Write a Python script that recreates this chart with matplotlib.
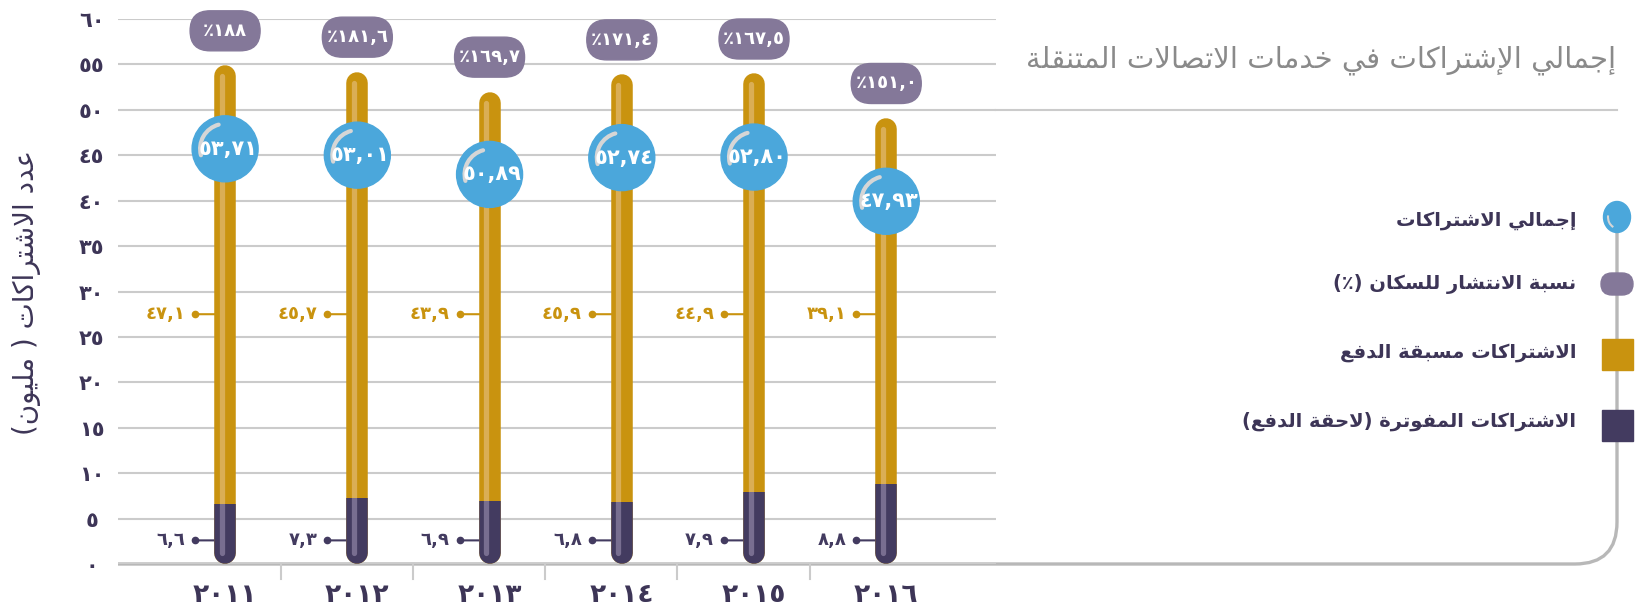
import re
import numpy as np
import matplotlib
matplotlib.use('Agg')
import matplotlib.pyplot as plt
from matplotlib import transforms
from matplotlib.patches import Circle, Arc, FancyBboxPatch, Rectangle, Ellipse, PathPatch
from matplotlib.path import Path

# data
years = ['2011', '2012', '2013', '2014', '2015', '2016']
prepaid = [47.1, 45.7, 43.9, 45.9, 44.9, 39.1]
postpaid = [6.6, 7.3, 6.9, 6.8, 7.9, 8.8]
total = [53.71, 53.01, 50.89, 52.74, 52.80, 47.93]
penetration = ['188', '181.6', '169.7', '171.4', '167.5', '151.0']

title = 'إجمالي الإشتراكات في خدمات الاتصالات المتنقلة'
ylabel = 'عدد الاشتراكات ( مليون)'
legend_labels = ['إجمالي الاشتراكات', 'نسبة الانتشار للسكان (٪)',
                 'الاشتراكات مسبقة الدفع', 'الاشتراكات المفوترة (لاحقة الدفع)']

GOLD = '#C9930F'
GOLD_HI = '#DAAE55'
DARK = '#433B60'
DARK_HI = '#786E90'
BLUE = '#4BA7DB'
PURPLE = '#847899'
GRID = '#CBCBCB'
BASE = '#B8B8B8'
TXT = '#3D3557'

# --- arabic shaping (matplotlib has no text shaping / bidi) ---
DUAL = {'ئ': 0xFE89, 'ب': 0xFE8F, 'ت': 0xFE95, 'ث': 0xFE99, 'ج': 0xFE9D, 'ح': 0xFEA1,
        'خ': 0xFEA5, 'س': 0xFEB1, 'ش': 0xFEB5, 'ص': 0xFEB9, 'ض': 0xFEBD, 'ط': 0xFEC1,
        'ظ': 0xFEC5, 'ع': 0xFEC9, 'غ': 0xFECD, 'ف': 0xFED1, 'ق': 0xFED5, 'ك': 0xFED9,
        'ل': 0xFEDD, 'م': 0xFEE1, 'ن': 0xFEE5, 'ه': 0xFEE9, 'ي': 0xFEF1}
RIGHT = {'آ': 0xFE81, 'أ': 0xFE83, 'ؤ': 0xFE85, 'إ': 0xFE87, 'ا': 0xFE8D, 'ة': 0xFE93,
         'د': 0xFEA9, 'ذ': 0xFEAB, 'ر': 0xFEAD, 'ز': 0xFEAF, 'و': 0xFEED, 'ى': 0xFEEF}
LAM_ALEF = {'آ': 0xFEF5, 'أ': 0xFEF7, 'إ': 0xFEF9, 'ا': 0xFEFB}


def shape(s):
    toks = []
    i = 0
    while i < len(s):
        c = s[i]
        if c == 'ل' and i + 1 < len(s) and s[i + 1] in LAM_ALEF:
            toks.append(('R', LAM_ALEF[s[i + 1]]))
            i += 2
            continue
        if c in DUAL:
            toks.append(('D', DUAL[c]))
        elif c in RIGHT:
            toks.append(('R', RIGHT[c]))
        else:
            toks.append(('N', c))
        i += 1
    out = []
    for k, (kind, v) in enumerate(toks):
        if kind == 'N':
            out.append(v)
            continue
        prev = k > 0 and toks[k - 1][0] == 'D'
        nxt = kind == 'D' and k + 1 < len(toks) and toks[k + 1][0] in 'DR'
        off = 3 if (prev and nxt) else 1 if prev else 2 if nxt else 0
        out.append(chr(v + off))
    return ''.join(out)


MIRROR = str.maketrans('()', ')(')


def rtl(s):
    s = shape(s)
    runs = re.findall(r'[0-9\u0660-\u0669]+(?:[.,][0-9\u0660-\u0669]+)*|[^0-9\u0660-\u0669]+', s)
    return ''.join(r if r[0].isdigit() else r[::-1].translate(MIRROR) for r in reversed(runs))


AR_DIGITS = str.maketrans('0123456789', '٠١٢٣٤٥٦٧٨٩')


def ar_num(v, fmt='{:.1f}'):
    return fmt.format(v).replace('.', ',').translate(AR_DIGITS)


plt.rcParams['font.family'] = ['DejaVu Sans']

W, H = 1637, 615
fig = plt.figure(figsize=(W / 100, H / 100), dpi=100)

bg = fig.add_axes([0, 0, 1, 1], zorder=0)
bg.set_xlim(0, W)
bg.set_ylim(H, 0)
bg.axis('off')

ax = fig.add_axes([118 / W, (H - 564) / H, (996 - 118) / W, (564 - 19) / H], zorder=1)
ax.set_facecolor('none')
ax.set_xlim(-0.81, 5.83)
ax.set_ylim(0, 60)
ax.autoscale(False)
for s in ax.spines.values():
    s.set_visible(False)

ax.set_yticks(np.arange(0, 61, 5))
ax.set_yticklabels([str(v).translate(AR_DIGITS) for v in range(0, 61, 5)],
                   fontsize=15, fontweight='bold', color=TXT, ha='center')
ax.set_xticks(np.arange(len(years)))
ax.set_xticklabels([y.translate(AR_DIGITS) for y in years],
                   fontsize=19, fontweight='bold', color=TXT)
ax.tick_params(axis='y', length=0, pad=19)
ax.tick_params(axis='x', length=0, pad=13)
ax.yaxis.grid(True, color=GRID, lw=1.5)
ax.set_axisbelow(True)

# category separators under the baseline
for b in np.arange(len(years) - 1) + 0.42:
    ax.plot([b, b], [0, -1.6], color=GRID, lw=1.5, clip_on=False, zorder=1)

x = np.arange(len(years))
px_per_unit = ax.transData.transform((0, 1))[1] - ax.transData.transform((0, 0))[1]
bar_lw = 15.5
r = (bar_lw / 2) * (100 / 72) / px_per_unit
hi_trans = transforms.offset_copy(ax.transData, fig=fig, x=-3.3, units='dots')


def at(xd, yd):
    return fig.dpi_scale_trans + transforms.ScaledTranslation(xd, yd, ax.transData)


for i in range(len(years)):
    xi = x[i]
    top = postpaid[i] + prepaid[i]
    # gold part, full height with round caps
    ax.plot([xi, xi], [r, top], color=GOLD, lw=bar_lw, solid_capstyle='round', zorder=3)
    # dark part, clipped flat at the postpaid value
    ln, = ax.plot([xi, xi], [r, postpaid[i]], color=DARK, lw=bar_lw,
                  solid_capstyle='round', zorder=3.5)
    ln.set_clip_path(Rectangle((xi - 0.5, -5), 1.0, postpaid[i] + 5, transform=ax.transData))
    # highlight stripes
    hl, = ax.plot([xi, xi], [postpaid[i], top], color=GOLD_HI, lw=3.8,
                  solid_capstyle='round', zorder=4, transform=hi_trans)
    hl.set_clip_path(Rectangle((xi - 0.5, postpaid[i]), 1.0, 70, transform=ax.transData))
    hd, = ax.plot([xi, xi], [r, postpaid[i]], color=DARK_HI, lw=3.8,
                  solid_capstyle='round', zorder=4, transform=hi_trans)
    hd.set_clip_path(Rectangle((xi - 0.5, -5), 1.0, postpaid[i] + 5, transform=ax.transData))

    # value labels with leader lines
    for val, ylab, col in [(prepaid[i], 27.5, GOLD), (postpaid[i], 2.6, DARK)]:
        ax.annotate('', xy=(xi, ylab), xytext=(-30, 0), textcoords='offset pixels',
                    arrowprops=dict(arrowstyle='-', color=col, lw=1.5,
                                    shrinkA=0, shrinkB=0), zorder=2)
        ax.plot(xi, ylab, 'o', ms=4.5, color=col, zorder=2,
                transform=transforms.offset_copy(ax.transData, fig=fig, x=-30, units='dots'))
        ax.annotate(ar_num(val), xy=(xi, ylab), xytext=(-40, 0), textcoords='offset pixels',
                    ha='right', va='center', fontsize=13, fontweight='bold', color=col,
                    zorder=2)

    # total bubble
    yb = total[i] - 8
    ax.add_patch(Circle((0, 0), 0.33, transform=at(xi, yb), color=BLUE, zorder=5, clip_on=False))
    ax.add_patch(Arc((0, 0), 0.50, 0.50, theta1=105, theta2=195, transform=at(xi, yb),
                     color='#D6D6D6', lw=3, capstyle='round', zorder=6, clip_on=False))
    ax.text(xi + 0.02, yb, ar_num(total[i], '{:.2f}'), ha='center', va='center',
            fontsize=15, fontweight='bold', color='white', zorder=7, clip_on=False)

    # penetration pill
    yp = top + 5
    ax.add_patch(FancyBboxPatch((-0.35, -0.20), 0.70, 0.40,
                                boxstyle='round,pad=0,rounding_size=0.2',
                                transform=at(xi, yp), color=PURPLE, zorder=5, clip_on=False))
    ax.text(xi, yp, '٪' + penetration[i].replace('.', ',').translate(AR_DIGITS),
            ha='center', va='center', fontsize=13, fontweight='bold', color='white',
            zorder=7, clip_on=False)

# baseline that runs round the corner into the legend line
verts = [(118, 564), (1575, 564), (1617, 564), (1617, 522), (1617, 217)]
codes = [Path.MOVETO, Path.LINETO, Path.CURVE3, Path.CURVE3, Path.LINETO]
bg.add_patch(PathPatch(Path(verts, codes), fill=False, edgecolor=BASE, lw=2.4))

# title and its rule (continuation of the 50 gridline)
bg.plot([996, 1617], [110, 110], color=GRID, lw=1.5)
bg.text(1616, 60, rtl(title), ha='right', va='center', fontsize=21, color='#8A8A8A')

# y label
bg.text(27, 292, rtl(ylabel), rotation=90, ha='center', va='center',
        fontsize=20, color=TXT)

# legend
lx = 1617
bg.add_patch(Ellipse((lx, 217), 27, 31, color=BLUE, zorder=3))
bg.add_patch(Arc((lx, 217), 18, 22, theta1=110, theta2=190, color='#D6D6D6', lw=1.5, zorder=4))
bg.add_patch(FancyBboxPatch((lx - 16, 284 - 11), 32, 22, boxstyle='round,pad=0,rounding_size=11',
                            color=PURPLE, zorder=3))
bg.add_patch(Rectangle((lx - 15.5, 354 - 15.5), 31, 31, color=GOLD, zorder=3))
bg.add_patch(Rectangle((lx - 15.5, 425 - 15.5), 31, 31, color=DARK, zorder=3))
for lab, ly in zip(legend_labels, [220, 284, 352, 421]):
    bg.text(1576, ly, rtl(lab), ha='right', va='center', fontsize=14,
            fontweight='bold', color=TXT)

fig.savefig('out.png', dpi=100)
